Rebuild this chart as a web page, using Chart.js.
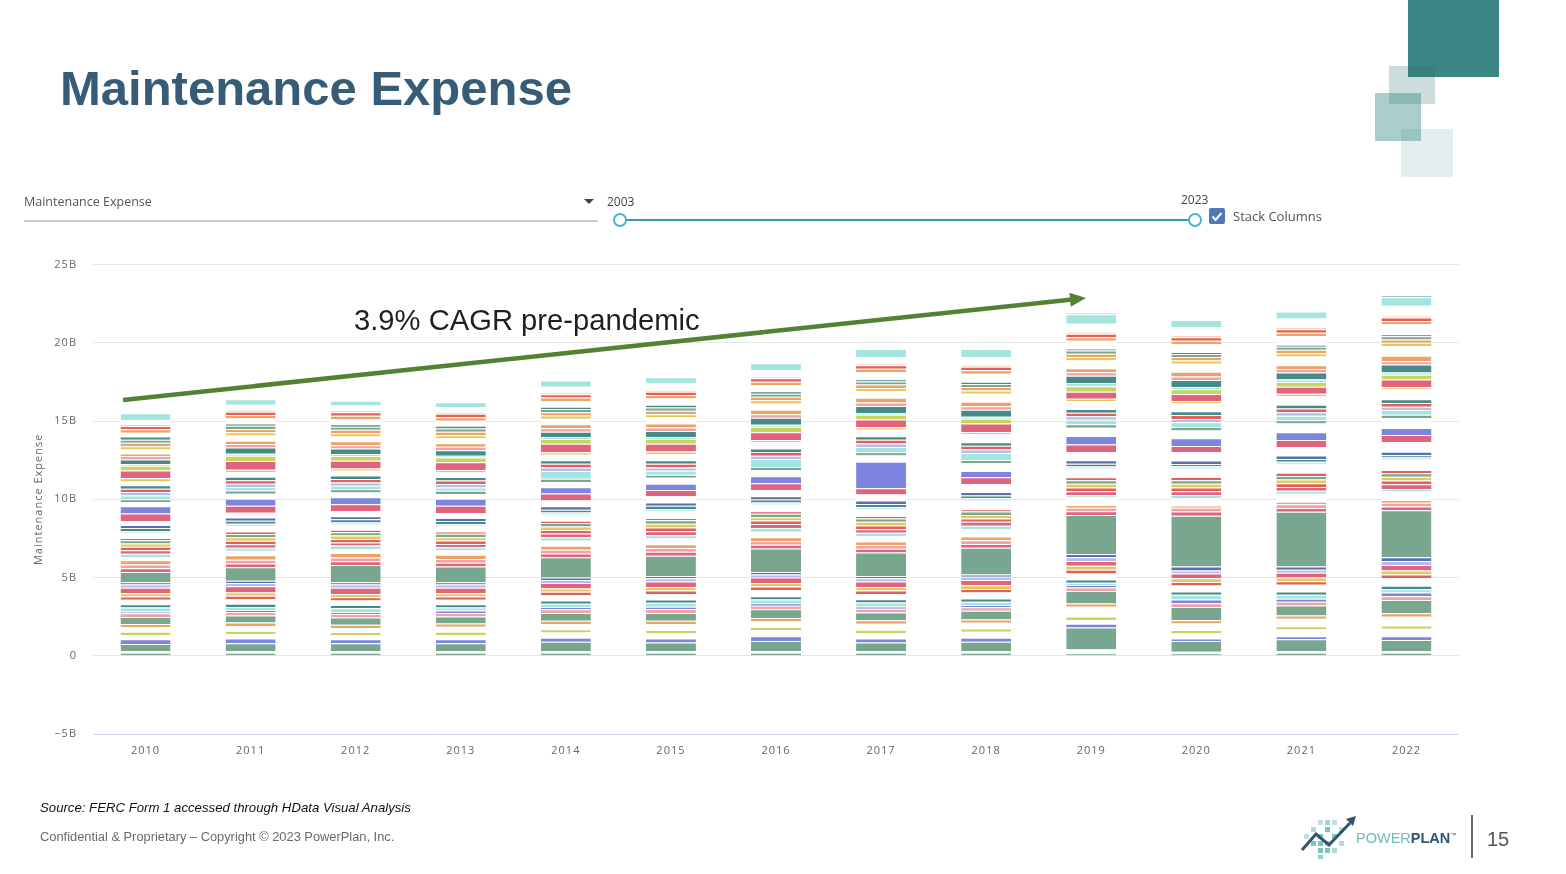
<!DOCTYPE html>
<html>
<head>
<meta charset="utf-8">
<title>Maintenance Expense</title>
<script src="https://cdn.jsdelivr.net/npm/chart.js"></script>
<style>
  body { margin: 0; width: 1566px; height: 874px; background: #fff; position: relative; overflow: hidden; }
  #chart-wrap { position: absolute; left: 28px; top: 242px; width: 1442px; height: 522px; }
  #overlay { position: absolute; left: 0; top: 0; width: 1566px; height: 874px; pointer-events: none; }
</style>
</head>
<body>
<div id="chart-wrap"><canvas id="bar-chart"></canvas></div>

<svg id="overlay" xmlns="http://www.w3.org/2000/svg" width="1566" height="874">
  <!-- corner squares -->
  <rect x="1408" y="0" width="91" height="77" fill="#3b8684"/>
  <rect x="1389" y="66" width="46" height="38" fill="rgba(40,110,108,0.23)"/>
  <rect x="1375" y="93" width="46" height="48" fill="rgba(40,130,125,0.4)"/>
  <rect x="1401" y="129" width="52" height="48" fill="rgba(60,140,135,0.14)"/>

  <text x="60" y="105" font-family="Liberation Sans, Arial, sans-serif" font-weight="bold" font-size="49" fill="#375c77">Maintenance Expense</text>

  <!-- controls row -->
  <g font-family="Open Sans, sans-serif">
    <text x="24" y="206" font-size="12.5" fill="#555">Maintenance Expense</text>
    <line x1="24" y1="221" x2="598" y2="221" stroke="#999" stroke-width="1"/>
    <polygon points="584,199 594,199 589,204" fill="#444"/>
    <text x="607" y="206" font-size="12" fill="#444">2003</text>
    <line x1="620" y1="220" x2="1195" y2="220" stroke="#3b97ad" stroke-width="2"/>
    <circle cx="620" cy="220" r="6" fill="#fff" stroke="#45b7ce" stroke-width="2"/>
    <circle cx="1195" cy="220" r="6" fill="#fff" stroke="#45b7ce" stroke-width="2"/>
    <text x="1181" y="204" font-size="12" fill="#444">2023</text>
    <rect x="1209" y="208" width="16" height="16" rx="2" fill="#5079b4"/>
    <path d="M1212.5 216.5 l3 3.5 l6 -7" stroke="#fff" stroke-width="2" fill="none"/>
    <text x="1233" y="221" font-size="13" fill="#555">Stack Columns</text>
  </g>

  <!-- CAGR annotation -->
  <line x1="123" y1="400" x2="1072" y2="299.5" stroke="#548235" stroke-width="4.5"/>
  <polygon points="1086,298 1069.4,292.7 1070.8,306.7" fill="#548235"/>
  <text x="354" y="330" font-family="Liberation Sans, Arial, sans-serif" font-size="29.2" fill="#1f1f1f">3.9% CAGR pre-pandemic</text>

  <!-- footer -->
  <text x="40" y="812" font-family="Liberation Sans, Arial, sans-serif" font-style="italic" font-size="13.2" fill="#111">Source: FERC Form 1 accessed through HData Visual Analysis</text>
  <text x="40" y="841" font-family="Liberation Sans, Arial, sans-serif" font-size="12.85" fill="#6a6a6a">Confidential &amp; Proprietary – Copyright © 2023 PowerPlan, Inc.</text>

  <!-- logo -->
  <g fill="#7fc3be">
    <rect x="1318" y="820" width="5" height="5" opacity="0.5"/>
    <rect x="1325" y="820" width="5" height="5" opacity="0.7"/>
    <rect x="1332" y="820" width="5" height="5" opacity="0.5"/>
    <rect x="1311" y="827" width="5" height="5" opacity="0.6"/>
    <rect x="1325" y="827" width="5" height="5"/>
    <rect x="1339" y="827" width="5" height="5" opacity="0.6"/>
    <rect x="1304" y="834" width="5" height="5" opacity="0.5"/>
    <rect x="1318" y="834" width="5" height="5"/>
    <rect x="1332" y="834" width="5" height="5"/>
    <rect x="1311" y="841" width="5" height="5"/>
    <rect x="1318" y="841" width="5" height="5"/>
    <rect x="1325" y="841" width="5" height="5" opacity="0.7"/>
    <rect x="1339" y="841" width="5" height="5" opacity="0.6"/>
    <rect x="1318" y="848" width="5" height="5"/>
    <rect x="1325" y="848" width="5" height="5"/>
    <rect x="1332" y="848" width="5" height="5" opacity="0.6"/>
    <rect x="1318" y="855" width="5" height="4" opacity="0.8"/>
  </g>
  <polyline points="1302,850 1316,834 1329,845 1350,823" fill="none" stroke="#2f5370" stroke-width="3"/>
  <polygon points="1356,816 1346,819 1353,826" fill="#2f5370"/>
  <text x="1356" y="843" font-family="Liberation Sans, Arial, sans-serif" font-size="14.5" fill="#6fbdb8">POWER<tspan font-weight="bold" fill="#2f5370">PLAN</tspan><tspan font-size="6" dy="-6" fill="#2f5370">™</tspan></text>
  <line x1="1472" y1="815" x2="1472" y2="858" stroke="#666" stroke-width="2"/>
  <text x="1487" y="846" font-family="Liberation Sans, Arial, sans-serif" font-size="20" fill="#555">15</text>
</svg>

<script>
// years on the x axis
const years = ["2010", "2011", "2012", "2013", "2014", "2015", "2016", "2017", "2018", "2019", "2020", "2021", "2022"];
const yTicks = [-5, 0, 5, 10, 15, 20, 25];

// stack segments in $B, bottom to top (one entry per year)
const b01 = [0.2, 0.2, 0.2, 0.2, 0.2, 0.2, 0.2, 0.2, 0.2, 0.15, 0.15, 0.2, 0.2];
const b02 = [0.1, 0.1, 0.1, 0.1, 0.1, 0.1, 0.1, 0.1, 0.1, 0.25, 0.1, 0.1, 0.1];
const b03 = [0.45, 0.5, 0.5, 0.5, 0.6, 0.55, 0.65, 0.55, 0.6, 1.4, 0.7, 0.75, 0.7];
const b04 = [0.3, 0.3, 0.25, 0.25, 0.25, 0.25, 0.3, 0.25, 0.25, 0.25, 0.15, 0.2, 0.25];
const b05 = [0.28, 0.28, 0.26, 0.28, 0.33, 0.33, 0.38, 0.33, 0.38, 0.23, 0.33, 0.43, 0.48];
const b06 = [0.21, 0.21, 0.21, 0.21, 0.21, 0.21, 0.21, 0.23, 0.21, 0.23, 0.21, 0.21, 0.21];
const b07 = [0.28, 0.32, 0.26, 0.31, 0.34, 0.38, 0.37, 0.38, 0.37, 0.62, 0.42, 0.47, 0.55];
const b08 = [0.21, 0.21, 0.21, 0.21, 0.21, 0.21, 0.21, 0.23, 0.21, 0.21, 0.21, 0.21, 0.23];
const b09 = [0.45, 0.45, 0.45, 0.45, 0.5, 0.5, 0.55, 0.5, 0.55, 0.8, 0.85, 0.65, 0.85];
const b10 = [0.23, 0.23, 0.23, 0.23, 0.23, 0.26, 0.23, 0.23, 0.23, 0.23, 0.23, 0.23, 0.23];
const b11 = [0.12, 0.12, 0.12, 0.15, 0.15, 0.15, 0.15, 0.15, 0.15, 0.15, 0.25, 0.2, 0.25];
const b12 = [0.25, 0.2, 0.25, 0.2, 0.2, 0.25, 0.25, 0.25, 0.2, 0.15, 0.3, 0.25, 0.2];
const b13 = [0.21, 0.21, 0.21, 0.21, 0.21, 0.21, 0.21, 0.21, 0.21, 0.21, 0.21, 0.21, 0.23];
const b14 = [0.29, 0.28, 0.28, 0.28, 0.33, 0.34, 0.38, 0.33, 0.38, 0.38, 0.38, 0.43, 0.48];
const b15 = [0.21, 0.23, 0.21, 0.21, 0.23, 0.23, 0.23, 0.23, 0.23, 0.23, 0.23, 0.23, 0.23];
const b16 = [0.21, 0.21, 0.21, 0.21, 0.21, 0.23, 0.23, 0.23, 0.23, 0.26, 0.23, 0.23, 0.26];
const b17 = [0.35, 0.4, 0.4, 0.35, 0.35, 0.35, 0.35, 0.35, 0.35, 0.3, 0.3, 0.3, 0.35];
const b18 = [0.2, 0.2, 0.2, 0.2, 0.2, 0.2, 0.2, 0.2, 0.2, 0.25, 0.2, 0.2, 0.25];
const b19 = [0.15, 0.15, 0.15, 0.15, 0.15, 0.15, 0.15, 0.15, 0.15, 0.2, 0.25, 0.2, 0.25];
const bigGreen = [0.65, 0.85, 1.1, 1.0, 1.3, 1.3, 1.5, 1.5, 1.7, 2.5, 3.25, 3.5, 3.0];
const a01 = [0.24, 0.24, 0.24, 0.24, 0.24, 0.24, 0.24, 0.24, 0.24, 0.24, 0.27, 0.24, 0.24];
const a02 = [0.24, 0.24, 0.24, 0.24, 0.24, 0.24, 0.24, 0.24, 0.24, 0.22, 0.24, 0.24, 0.24];
const a03 = [0.28, 0.3, 0.28, 0.28, 0.25, 0.25, 0.25, 0.22, 0.25, 0.17, 0.15, 0.17, 0.17];
const a04 = [0.21, 0.28, 0.26, 0.28, 0.32, 0.36, 0.34, 0.36, 0.46, 0.48, 0.46, 0.51, 0.56];
const a05 = [0.2, 0.2, 0.22, 0.2, 0.22, 0.22, 0.25, 0.2, 0.22, 0.15, 0.2, 0.18, 0.15];
const a06 = [0.22, 0.22, 0.2, 0.2, 0.25, 0.25, 0.25, 0.22, 0.25, 0.25, 0.25, 0.25, 0.3];
const a07 = [0.22, 0.22, 0.22, 0.22, 0.22, 0.24, 0.22, 0.24, 0.22, 0.24, 0.24, 0.24, 0.24];
const a08 = [0.22, 0.22, 0.22, 0.22, 0.22, 0.24, 0.22, 0.24, 0.22, 0.24, 0.24, 0.24, 0.24];
const a09 = [0.2, 0.22, 0.22, 0.22, 0.22, 0.22, 0.22, 0.22, 0.22, 0.22, 0.22, 0.22, 0.22];
const a10 = [0.15, 0.15, 0.15, 0.15, 0.15, 0.15, 0.15, 0.15, 0.15, 0.2, 0.2, 0.2, 0.22];
const a11 = [0.28, 0.34, 0.32, 0.31, 0.38, 0.42, 0.42, 0.42, 0.54, 0.54, 0.54, 0.56, 0.64];
const a12 = [0.15, 0.15, 0.15, 0.15, 0.15, 0.15, 0.15, 0.15, 0.15, 0.15, 0.15, 0.15, 0.15];
const a13 = [0.2, 0.2, 0.2, 0.2, 0.18, 0.2, 0.18, 0.2, 0.18, 0.18, 0.15, 0.18, 0.15];
const a14 = [0.2, 0.2, 0.2, 0.2, 0.22, 0.22, 0.22, 0.22, 0.22, 0.22, 0.22, 0.22, 0.22];
const a15 = [0.24, 0.31, 0.31, 0.32, 0.36, 0.39, 0.38, 0.38, 0.5, 0.5, 0.52, 0.54, 0.62];
const a16 = [0.5, 0.45, 0.45, 0.45, 0.45, 0.4, 0.45, 0.4, 0.45, 0.5, 0.4, 0.45, 0.45];
const a17 = [0.45, 0.45, 0.45, 0.45, 0.4, 0.4, 0.45, 1.7, 0.4, 0.55, 0.5, 0.5, 0.45];
const a18 = [0.26, 0.32, 0.31, 0.31, 0.34, 0.38, 0.39, 0.4, 0.5, 0.52, 0.5, 0.55, 0.62];
const a19 = [0.2, 0.2, 0.2, 0.2, 0.2, 0.2, 0.2, 0.2, 0.2, 0.22, 0.22, 0.22, 0.22];
const a20 = [0.23, 0.22, 0.22, 0.22, 0.5, 0.25, 0.5, 0.35, 0.45, 0.3, 0.3, 0.28, 0.3];
const a21 = [0.22, 0.22, 0.22, 0.22, 0.22, 0.22, 0.22, 0.22, 0.22, 0.22, 0.22, 0.22, 0.22];
const a22 = [0.22, 0.22, 0.22, 0.22, 0.24, 0.24, 0.24, 0.24, 0.24, 0.22, 0.24, 0.24, 0.24];
const a23 = [0.22, 0.22, 0.22, 0.22, 0.22, 0.22, 0.22, 0.22, 0.22, 0.24, 0.24, 0.24, 0.24];
const a24 = [0.24, 0.3, 0.3, 0.3, 0.36, 0.4, 0.39, 0.42, 0.51, 0.51, 0.51, 0.56, 0.64];
const a25 = [0.2, 0.15, 0.15, 0.15, 0.15, 0.15, 0.15, 0.15, 0.15, 0.15, 0.15, 0.15, 0.12];
const a26 = [0.5, 0.55, 0.5, 0.5, 0.55, 0.5, 0.5, 0.5, 0.55, 0.45, 0.45, 0.45, 0.5];
const a27 = [0.3, 0.35, 0.3, 0.3, 0.3, 0.3, 0.35, 0.3, 0.3, 0.35, 0.3, 0.3, 0.3];
const a28 = [0.12, 0.12, 0.12, 0.12, 0.12, 0.12, 0.12, 0.12, 0.12, 0.2, 0.15, 0.15, 0.15];
const a29 = [0.28, 0.4, 0.35, 0.35, 0.35, 0.4, 0.45, 0.45, 0.45, 0.47, 0.45, 0.45, 0.5];
const a30 = [0.22, 0.22, 0.22, 0.22, 0.22, 0.22, 0.22, 0.22, 0.22, 0.22, 0.22, 0.22, 0.22];
const a31 = [0.17, 0.22, 0.25, 0.22, 0.25, 0.25, 0.3, 0.3, 0.3, 0.25, 0.3, 0.25, 0.35];
const a32 = [0.26, 0.33, 0.31, 0.32, 0.36, 0.4, 0.4, 0.42, 0.51, 0.52, 0.52, 0.56, 0.62];
const a33 = [0.2, 0.2, 0.2, 0.2, 0.2, 0.2, 0.2, 0.2, 0.2, 0.2, 0.2, 0.2, 0.2];
const a34 = [0.22, 0.22, 0.22, 0.22, 0.22, 0.22, 0.22, 0.22, 0.22, 0.22, 0.22, 0.22, 0.22];
const a35 = [0.2, 0.2, 0.2, 0.2, 0.2, 0.2, 0.2, 0.2, 0.2, 0.2, 0.2, 0.2, 0.2];
const a36 = [0.2, 0.15, 0.15, 0.18, 0.15, 0.18, 0.15, 0.15, 0.15, 0.12, 0.12, 0.12, 0.12];
const a37 = [0.24, 0.31, 0.33, 0.32, 0.36, 0.4, 0.39, 0.44, 0.51, 0.51, 0.51, 0.56, 0.64];
const a38 = [0.22, 0.22, 0.22, 0.22, 0.22, 0.22, 0.22, 0.22, 0.22, 0.22, 0.22, 0.22, 0.22];
const a39 = [0.22, 0.22, 0.22, 0.22, 0.22, 0.22, 0.22, 0.22, 0.22, 0.22, 0.22, 0.22, 0.22];
const a40 = [0.12, 0.12, 0.12, 0.12, 0.12, 0.12, 0.12, 0.12, 0.12, 0.12, 0.12, 0.12, 0.12];
const a41 = [0.24, 0.33, 0.32, 0.32, 0.36, 0.4, 0.4, 0.42, 0.51, 0.52, 0.53, 0.56, 0.63];
const a42 = [0.45, 0.35, 0.3, 0.3, 0.4, 0.4, 0.45, 0.5, 0.5, 0.6, 0.45, 0.45, 0.55];
const a43 = [0, 0, 0, 0, 0, 0, 0, 0, 0, 0.08, 0, 0, 0.08];

const GREEN = "#78a68f", PURPLE = "#7e85e0", PINKRED = "#e0637f", RED = "#e25f5b";
const TEAL = "#478b89", CYAN = "#a4e5df", CYANLT = "#c5ece8", ORANGE = "#eba366";
const YGREEN = "#c8d45b", YELLOW = "#e3c95b", PINK = "#f0a2a4", BLUE = "#5a70b0";
const LAVENDER = "#b7bbea", PEACH = "#f7c99f", PALE = "#ffffff";

const stack = [
  [b01, GREEN], [b02, PALE], [b03, GREEN], [b04, PURPLE], [b05, PALE], [b06, YGREEN],
  [b07, PALE], [b08, ORANGE], [b09, GREEN], [b10, PINK], [b11, PURPLE], [b12, CYAN],
  [b13, TEAL], [b14, PALE], [b15, RED], [b16, YELLOW], [b17, PINKRED], [b18, LAVENDER],
  [b19, BLUE], [bigGreen, GREEN],
  [a01, PINKRED], [a02, PINK], [a03, ORANGE], [a04, PALE], [a05, CYAN], [a06, PINKRED],
  [a07, RED], [a08, YELLOW], [a09, GREEN], [a10, RED], [a11, PALE], [a12, CYANLT],
  [a13, TEAL], [a14, BLUE], [a15, PALE], [a16, PINKRED], [a17, PURPLE], [a18, PALE],
  [a19, GREEN], [a20, CYAN], [a21, LAVENDER], [a22, RED], [a23, TEAL], [a24, PALE],
  [a25, YELLOW], [a26, PINKRED], [a27, YGREEN], [a28, CYAN], [a29, TEAL], [a30, PINK],
  [a31, ORANGE], [a32, PALE], [a33, YELLOW], [a34, ORANGE], [a35, GREEN], [a36, TEAL],
  [a37, PALE], [a38, ORANGE], [a39, RED], [a40, PEACH], [a41, PALE], [a42, CYAN],
  [a43, TEAL],
];

Chart.defaults.font.family = "'Open Sans', sans-serif";

// wider letter spacing for the axis texts
const spacing = {
  id: "spacing",
  beforeDraw(chart) {
    chart.ctx.letterSpacing = "1px";
  },
};

const ctx = document.getElementById("bar-chart").getContext("2d");
new Chart(ctx, {
  type: "bar",
  data: {
    labels: years,
    datasets: stack.map(([values, color], i) => ({
      label: "Segment " + (i + 1),
      data: values,
      backgroundColor: color,
      borderColor: "#ffffff",
      borderWidth: { top: 1, right: 0, bottom: 0, left: 0 },
      borderSkipped: false,
      barPercentage: 0.476,
      categoryPercentage: 1,
    })),
  },
  options: {
    responsive: true,
    maintainAspectRatio: false,
    animation: false,
    layout: { padding: { top: 10, right: 11, bottom: 0, left: 0 } },
    plugins: {
      legend: { display: false },
      tooltip: {
        callbacks: {
          label: function (context) {
            return context.raw + "B";
          },
        },
      },
    },
    scales: {
      x: {
        stacked: true,
        grid: { display: false, drawTicks: false },
        border: { display: false },
        ticks: { color: "#666", padding: 10, font: { size: 11 } },
        afterFit: (scale) => { scale.height = 30; },
      },
      y: {
        stacked: true,
        min: yTicks[0],
        max: yTicks[yTicks.length - 1],
        afterBuildTicks: (scale) => { scale.ticks = yTicks.map((v) => ({ value: v })); },
        grid: {
          drawTicks: false,
          color: (c) => (c.tick && c.tick.value === -5 ? "#ccd6eb" : "#e6e6e6"),
        },
        border: { display: false },
        ticks: {
          color: "#666",
          padding: 16,
          font: { size: 11 },
          callback: (v) => (v === 0 ? "0" : (v < 0 ? "−" + -v : v) + "B"),
        },
        title: {
          display: true,
          text: "Maintenance Expense",
          color: "#666",
          font: { size: 11 },
          padding: { top: 4, bottom: 4 },
        },
        afterFit: (scale) => { scale.width = 65; },
      },
    },
  },
  plugins: [spacing],
});
</script>
</body>
</html>
